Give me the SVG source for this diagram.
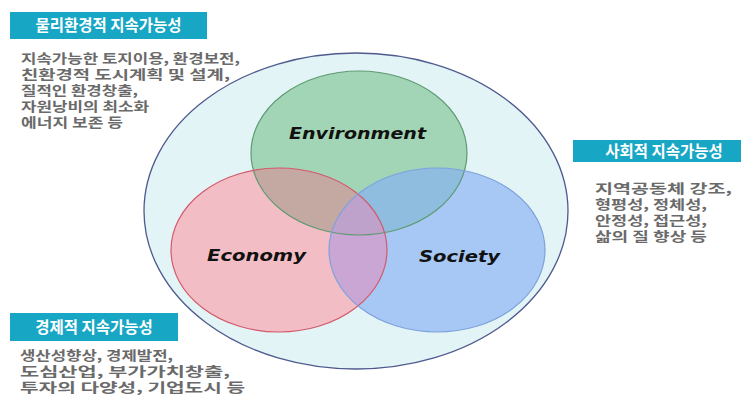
<svg xmlns="http://www.w3.org/2000/svg" width="744" height="395" viewBox="0 0 744 395">
<style>
.box{fill:#17a6c4}
.title{font-family:"Noto Sans CJK KR","Noto Sans",sans-serif;font-weight:bold;font-size:15.5px;fill:#ffffff;text-anchor:middle}
.body{font-family:"Noto Sans CJK KR","Noto Sans",sans-serif;font-weight:bold;font-size:13px;fill:#6a6a6a}
.eng{font-family:"DejaVu Sans","Liberation Sans",sans-serif;font-weight:bold;font-style:italic;font-size:16px;fill:#111111}
</style>
<defs>
<clipPath id="cEnv"><ellipse cx="359" cy="153" rx="108" ry="82"/></clipPath>
<clipPath id="cEcon"><ellipse cx="279" cy="250" rx="108" ry="82"/></clipPath>
<clipPath id="cEnvEcon" clip-path="url(#cEnv)"><ellipse cx="279" cy="250" rx="108" ry="82"/></clipPath>
</defs>
<rect width="744" height="395" fill="#ffffff"/>
<g id="outer">
<ellipse cx="356" cy="211" rx="212" ry="158" fill="#e3f4f7" stroke="#4e5a8e" stroke-width="1.3"/>
</g>
<g id="fills">
<ellipse cx="359" cy="153" rx="108" ry="82" fill="#a2d5b5"/>
<ellipse cx="279" cy="250" rx="108" ry="82" fill="#f3bdc5"/>
<ellipse cx="437" cy="250" rx="108" ry="82" fill="#a7c8f4"/>
<ellipse cx="279" cy="250" rx="108" ry="82" fill="#c4a9a3" clip-path="url(#cEnv)"/>
<ellipse cx="437" cy="250" rx="108" ry="82" fill="#8ebde0" clip-path="url(#cEnv)"/>
<ellipse cx="437" cy="250" rx="108" ry="82" fill="#c9a6d4" clip-path="url(#cEcon)"/>
<ellipse cx="437" cy="250" rx="108" ry="82" fill="#bea2cb" clip-path="url(#cEnvEcon)"/>
</g>
<g id="environment">
<ellipse cx="359" cy="153" rx="108" ry="82" fill="none" stroke="#5e9a72" stroke-width="1.2"/>
<text class="eng" x="289" y="139" textLength="137" lengthAdjust="spacingAndGlyphs">Environment</text>
</g>
<g id="economy">
<ellipse cx="279" cy="250" rx="108" ry="82" fill="none" stroke="#d25a6a" stroke-width="1.2"/>
<text class="eng" x="207" y="261" textLength="99" lengthAdjust="spacingAndGlyphs">Economy</text>
</g>
<g id="society">
<ellipse cx="437" cy="250" rx="108" ry="82" fill="none" stroke="#7fa2dc" stroke-width="1.2"/>
<text class="eng" x="419" y="262" textLength="81" lengthAdjust="spacingAndGlyphs">Society</text>
</g>
<g id="connectors"/>
<g id="physical-env">
<rect class="box" x="10" y="12" width="197" height="27"/>
<text class="title" x="108.5" y="31">물리환경적 지속가능성</text>
<text class="body" x="21" y="63" textLength="219" lengthAdjust="spacingAndGlyphs">지속가능한 토지이용, 환경보전,</text>
<text class="body" x="21" y="79" textLength="209" lengthAdjust="spacingAndGlyphs">친환경적 도시계획 및 설계,</text>
<text class="body" x="21" y="95" textLength="117" lengthAdjust="spacingAndGlyphs">질적인 환경창출,</text>
<text class="body" x="21" y="111" textLength="128" lengthAdjust="spacingAndGlyphs">자원낭비의 최소화</text>
<text class="body" x="21" y="127" textLength="102" lengthAdjust="spacingAndGlyphs">에너지 보존 등</text>
</g>
<g id="social">
<rect class="box" x="573" y="140" width="168" height="22"/>
<text class="title" x="664" y="156.5">사회적 지속가능성</text>
<text class="body" x="595" y="193" textLength="137" lengthAdjust="spacingAndGlyphs">지역공동체 강조,</text>
<text class="body" x="595" y="209" textLength="112" lengthAdjust="spacingAndGlyphs">형평성, 정체성,</text>
<text class="body" x="595" y="225" textLength="112" lengthAdjust="spacingAndGlyphs">안정성, 접근성,</text>
<text class="body" x="595" y="241" textLength="112" lengthAdjust="spacingAndGlyphs">삶의 질 향상 등</text>
</g>
<g id="economic">
<rect class="box" x="10" y="313" width="168" height="28"/>
<text class="title" x="94" y="332.5">경제적 지속가능성</text>
<text class="body" x="20" y="360" textLength="153" lengthAdjust="spacingAndGlyphs">생산성향상, 경제발전,</text>
<text class="body" x="20" y="376" textLength="210" lengthAdjust="spacingAndGlyphs">도심산업, 부가가치창출,</text>
<text class="body" x="20" y="392" textLength="225" lengthAdjust="spacingAndGlyphs">투자의 다양성, 기업도시 등</text>
</g>
</svg>
